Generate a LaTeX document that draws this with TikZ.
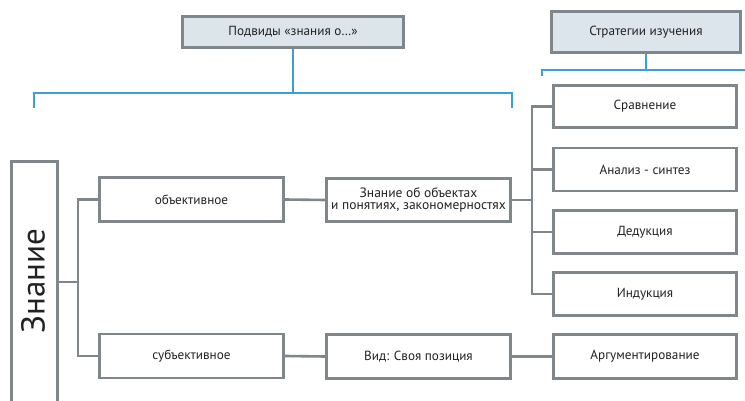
\documentclass[tikz,border=0pt]{standalone}
\usepackage{fontspec}
\setmainfont{PT Sans}
\definecolor{boxgray}{HTML}{80878A}
\definecolor{headfill}{HTML}{DCE4EC}
\definecolor{lineblue}{HTML}{3A9FD5}
\definecolor{txt}{HTML}{222222}
\begin{document}
\begin{tikzpicture}[x=1pt,y=-1pt,
  box/.style={draw=boxgray,line width=2.6pt,fill=white,text=txt,inner sep=2pt,align=center,
    font=\fontsize{13.2}{13}\selectfont},
  headbox/.style={box,fill=headfill},
  gline/.style={draw=boxgray,line width=2.6pt},
  bline/.style={draw=lineblue,line width=1.8pt}]
\useasboundingbox (0,0) rectangle (745,401);
\clip (0,0) rectangle (745,401);
% headers
\node[headbox,minimum width=221pt,minimum height=31pt] (sub) at (293,32) {Подвиды «знания о…»};
\node[headbox,minimum width=189pt,minimum height=41pt] (strat) at (646,32) {Стратегии изучения};
% left big box
\node[box,minimum width=46pt,minimum height=255pt,anchor=north west] (zn) at (10.3,160.3) {};
\node[text=txt,rotate=90,font=\fontsize{33}{33}\selectfont] (zntext) at (33,281) {Знание};
% second column
\node[box,minimum width=184pt,minimum height=44pt] (ob) at (191.5,199.5) {объективное};
\node[box,minimum width=184pt,minimum height=44pt] (sb) at (191.5,356) {субъективное};
% third column
\node[box,minimum width=184pt,minimum height=43pt,font=\fontsize{13.5}{12.5}\selectfont] (zo) at (418.5,200) {Знание об объектах\\и понятиях, закономерностях};
\node[box,minimum width=184pt,minimum height=44pt] (vid) at (418.5,356.5) {Вид: Своя позиция};
% fourth column
\node[box,minimum width=183pt,minimum height=42pt] (sr) at (645,106.5) {Сравнение};
\node[box,minimum width=183pt,minimum height=43pt] (an) at (645,169.5) {Анализ - синтез};
\node[box,minimum width=183pt,minimum height=43pt] (ded) at (645,232) {Дедукция};
\node[box,minimum width=183pt,minimum height=43pt] (ind) at (645,294) {Индукция};
\node[box,minimum width=183pt,minimum height=44pt] (arg) at (645,356.5) {Аргументирование};
% blue brackets
\coordinate (bl) at (34,108);
\coordinate (br) at (512,108);
\coordinate (sl) at (542,76);
\coordinate (se) at (746,70);
\draw[bline] (sub.south) -- (sub.south |- 0,93);
\draw[bline] (bl) -- (34,93) -- (512,93) -- (br);
\draw[bline] (strat.south) -- (strat.south |- se);
\draw[bline] (sl) -- (sl |- se) -- (se);
% gray connectors
\draw[gline] (zn.east |- 0,282) -- (78,282);
\draw[gline] (ob.west) -- (78,199.5) |- (sb.west);
\draw[gline] (ob.east) -- (zo.west);
\draw[gline] (sb.east) -- (vid.west);
\draw[gline] (vid.east) -- (arg.west);
\draw[gline] (zo.east) -- (532,200);
\draw[gline] (sr.west) -- (532,106.5) |- (ind.west);
\draw[gline] (an.west) -- (532,169.5);
\draw[gline] (ded.west) -- (532,232);
\end{tikzpicture}
\end{document}
